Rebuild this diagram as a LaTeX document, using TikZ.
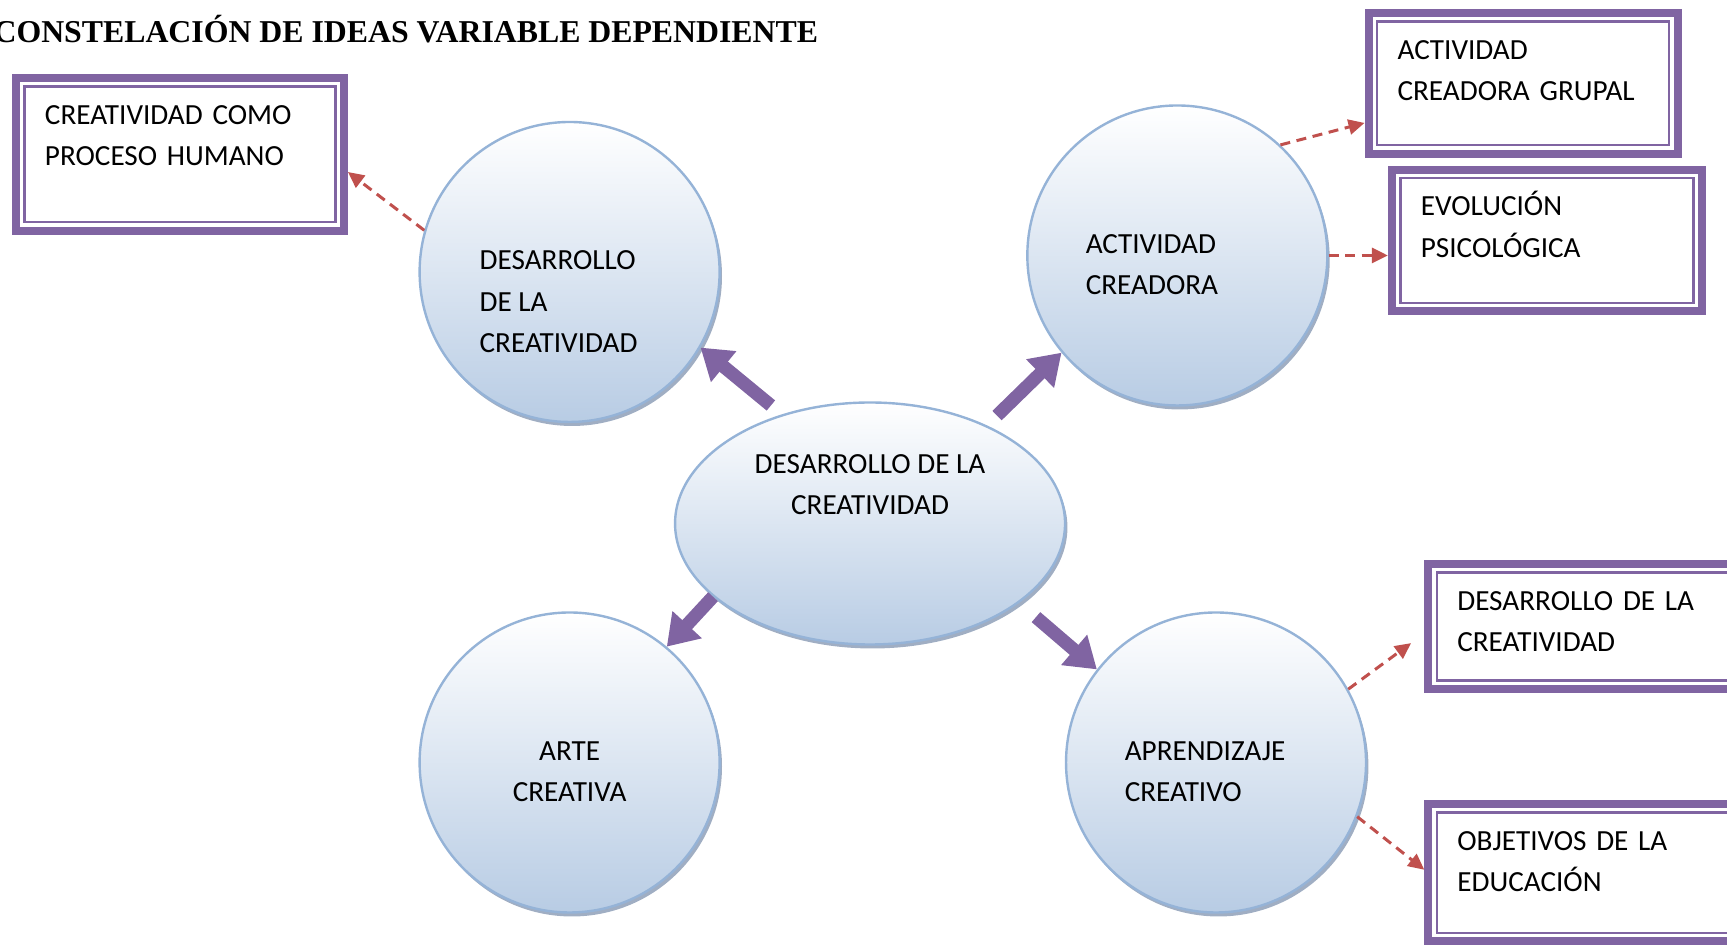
\documentclass[tikz,border=0pt]{standalone}
\usepackage{fontspec}
\setmainfont{Carlito}
\newfontfamily\titlefont{Liberation Serif}
\usetikzlibrary{arrows.meta,shapes.geometric,shadows}
\definecolor{boxpurple}{RGB}{128,100,162}
\definecolor{dashred}{RGB}{192,80,77}
\definecolor{rimblue}{RGB}{149,179,215}
\definecolor{fillblue}{RGB}{184,204,228}
\definecolor{shadowblue}{RGB}{120,140,170}
\tikzset{>={Triangle[length=8pt,width=7.5pt]},
  bubble/.style={draw=rimblue,line width=1.2pt,top color=white,bottom color=fillblue,
    minimum size=150pt,inner sep=0pt,
    drop shadow={shadow xshift=1.2pt,shadow yshift=-2pt,fill=shadowblue,opacity=.7}},
  lbl/.style={font=\fontsize{14.6}{20.6}\selectfont,inner sep=0pt},
  frame/.style 2 args={draw=boxpurple,line width=4pt,fill=white,anchor=north west,
    inner xsep=14.5pt,inner ysep=0pt,text width=#1,text height=23.2pt,text depth=#2,
    align=left,font=\fontsize{14.6}{20.6}\selectfont},
  link/.style={->,dashred,line width=1.5pt,dash pattern=on 5pt off 3.3pt},
  push/.style={-{Triangle[length=15pt,width=19pt]},boxpurple,line width=6.6pt}}

\begin{document}
\begin{tikzpicture}
\useasboundingbox (0,0) rectangle (30.35,16.61);
\node[anchor=base west,inner sep=0pt,font=\titlefont\bfseries\fontsize{15.9}{19}\selectfont] (title) at (-0.12,15.87) {CONSTELACIÓN DE IDEAS VARIABLE DEPENDIENTE};

\node[bubble,circle] (c1) at (10.01,11.83) {};
\node[bubble,circle] (c2) at (20.69,12.12) {};
\node[bubble,circle] (c3) at (10.01,3.21) {};
\node[bubble,circle] (c4) at (21.37,3.21) {};
\node[bubble,ellipse,minimum width=195pt,minimum height=121pt] (ell) at (15.29,7.41) {};

\node[lbl,align=left] (t1) at ([shift={(-5.5pt,-14.9pt)}]c1.center) {DESARROLLO\\DE LA\\CREATIVIDAD};
\node[lbl,align=left] (t2) at ([shift={(-12.7pt,-4.7pt)}]c2.center) {ACTIVIDAD\\CREADORA};
\node[lbl,align=center] (t3) at ([yshift=-4.7pt]c3.center) {ARTE\\CREATIVA};
\node[lbl,align=left] (t4) at ([shift={(-5.5pt,-4.7pt)}]c4.center) {APRENDIZAJE\\CREATIVO};
\node[lbl,align=center] (t0) at ([yshift=19.5pt]ell.center) {DESARROLLO DE LA\\CREATIVIDAD};

\node[frame={135pt}{53.2pt}] (b1) at (0.21,15.31) {CREATIVIDAD COMO\\PROCESO HUMANO};
\node[frame={125.6pt}{47.1pt}] (b2) at (23.98,16.45) {ACTIVIDAD\\CREADORA GRUPAL};
\node[frame={126.2pt}{47.7pt}] (b3) at (24.39,13.70) {EVOLUCIÓN\\PSICOLÓGICA};
\node[frame={136.1pt}{39.4pt}] (b4) at (25.03,6.77) {DESARROLLO DE LA\\CREATIVIDAD};
\node[frame={136.1pt}{45.5pt}] (b5) at (25.03,2.55) {OBJETIVOS DE LA\\EDUCACIÓN};
\foreach \b in {b1,b2,b3,b4,b5}
  \draw[boxpurple,line width=1.2pt] ([shift={(6.3pt,-6.3pt)}]\b.north west) rectangle ([shift={(-6.3pt,6.3pt)}]\b.south east);

\draw[push,shorten <=7pt] (ell.129) -- (c1.-30);
\draw[push,shorten <=7pt] (ell.40) -- (c2.220);
\draw[push] (ell.205) -- (c3.50);
\draw[push,shorten <=11pt] (ell.332) -- (c4.142);

\draw[link] (c1.164) -- (b1.-6);
\draw[link] (c2.47) -- (b2.194);
\draw[link] (c2.east) -- (c2.east -| b3.west);
\draw[link] (c4.29) -- ([shift={(-6.6pt,-8.3pt)}]b4.west);
\draw[link] (c4.-21) -- ([yshift=1.5pt]b5.west);
\end{tikzpicture}
\end{document}
